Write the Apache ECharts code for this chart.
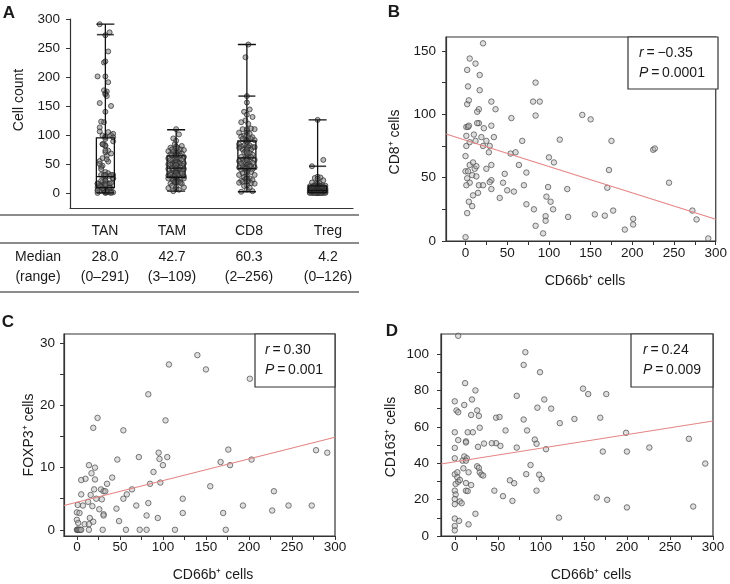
<!DOCTYPE html>
<html><head><meta charset="utf-8">
<script src="https://cdn.jsdelivr.net/npm/echarts@6/dist/echarts.min.js"></script>
<style>html,body{margin:0;padding:0;background:#fff}#c{width:730px;height:584px}</style>
</head><body><div id="c"></div>
<script>
// ---------- DATA ----------
const boxCats = ['TAN', 'TAM', 'CD8', 'Treg'];
const boxMin = [0, 3, 2, 0];
const boxQ1 = [9, 27, 42, 0.8];
const boxMed = [28.0, 42.7, 60.3, 4.2];
const boxQ3 = [95, 64, 89.6, 12];
const boxMax = [291, 109, 256, 126];
const innerCap = [273, null, 167, 46];
const cd8Extra = [256, 234, 167];
const tregExtra = [126, 57, 46];

// Panel B: CD66b+ (x) vs CD8+ (y)
const ptsB = [[21,156],[5,144],[12,140],[2,135],[17,131],[3,122],[17,119],[84,125],[2,108],[4,111],[31,110],[81,110],[89,110],[16,104],[36,104],[14,102],[84,99],[140,99.5],[150,96],[55,97],[1,90],[3,90],[4,91],[16,93],[14,93],[22,89],[31,91],[10,84],[1,83],[34,82],[19,82],[12,79],[68,79],[113,80],[175,79],[225,72],[227,73],[1,75],[21,75],[29,75],[25,79],[5,78],[0,67],[54,69],[60,70],[28,70],[100,66],[106,62],[64,60],[31,60],[5,60],[9,62],[11,57],[13,59],[25,57],[0,55],[3,55],[73,54],[47,53],[172,56],[8,52],[13,51],[2,49.5],[5,46],[31,48],[29,46.5],[45,46],[70,44],[1,44],[16,44],[21,44],[244,46],[99,42.6],[170,42],[31,41],[50,40],[58,39],[122,41],[15,38],[9,36],[41,34],[97,35],[102,31],[4,31],[73,29],[105,25],[8,27.5],[82,25],[2,22],[155,21],[167,20],[177,24],[272,24],[277,17],[123,19],[96,19.6],[96,16],[201,17.5],[201,13],[191,9],[84,12],[93,6],[0,3],[291,2]];
// Panel C: CD66b+ (x) vs FOXP3+ (y)
const ptsC = [[140,28.1],[107,26.6],[150,25.8],[201,24.3],[83,21.8],[24,18],[103,17.6],[19,16.4],[54,16],[278,12.8],[291,12.4],[176,12.9],[95,12.4],[96,11.4],[72,11.7],[105,11.7],[47,11.3],[167,10.9],[203,11.3],[100,10.4],[178,10.4],[14,10.4],[21,10],[89,9.3],[17,9.1],[10,8.2],[5,8],[21,8.1],[41,8.4],[35,7.4],[85,7.4],[97,7.6],[28,6.5],[31,6.2],[33,6.2],[64,6.5],[20,6.5],[155,7],[229,6.2],[5,5.7],[58,5.7],[54,5],[16,5.6],[22.5,5],[29,4.9],[123,5],[13,4.5],[18,3.8],[1,4],[7,3.9],[26,3.3],[46,3.4],[69,3.9],[83,4.3],[193,3.9],[246,3.9],[273,3.9],[227,3.1],[170,2.7],[123,2.7],[0,2.8],[3,2.7],[31,2.5],[31,2.3],[15,1.9],[81,2.3],[94,1.9],[49,1.4],[0,1.6],[9,0.9],[14,0.9],[19,1.3],[1.5,1.1],[0,0],[0.5,0],[1,0],[2,0],[3,0],[4,0],[5,0],[14,0],[30,0],[57,0],[73,0],[81,0],[114,0],[173,0]];
// Panel D: CD66b+ (x) vs CD163+ (y)
const ptsD = [[4,110],[82,101],[80,94],[99,90],[149,81],[155,78],[176,78],[12,84],[24,80],[20,75],[104,75],[72,77],[0,74],[11,72],[26,69],[112,70],[96,70.5],[2,69],[4,68],[19,66.5],[28,66],[48,65],[52,65.4],[139,64.3],[169,65],[80,64],[122,62],[29,59.5],[59,58],[84,58],[0,57],[15,57],[21,57],[199,56.7],[272,53.4],[4,52.7],[13,52],[13,51.4],[34,50.8],[48,51],[43,51],[53,49.5],[93,53],[95,50.7],[27,49],[72,48.6],[106,47.7],[226,48.6],[172,46.4],[200,46.4],[0,48.4],[11,43.7],[14,42.7],[0,42.7],[9,41.4],[13,41.4],[88,39],[291,39.8],[26,38.3],[28,37.4],[10,37.2],[0,33.9],[3,35],[16,35],[29,35],[31,33.7],[33,33.2],[3,32.2],[1,28.6],[4,29.8],[6,30.8],[13,29.1],[19,28],[83,34],[98,33.7],[101,31.3],[64,30.6],[69,29],[0,24.9],[1,22.8],[13,24.9],[15,24.7],[46,24.9],[95,24.9],[56,21.9],[67,19.3],[165,21.2],[177,19.9],[200,15.7],[277,16.2],[0,20.3],[6,19],[8,18],[0,17.5],[24,12.2],[121,10.1],[0,9.6],[5,8.3],[16,6.4],[0,5.5],[0,3.1]];

// fitted regression line end points
const regB = [[-23.4, 84.4], [300, 17.2]];
const regC = [[-15, 3.9], [300, 14.9]];
const regD = [[-16, 39.6], [300, 63.2]];
const statB = ['−0.35', '0.0001'];
const statC = ['0.30', '0.001'];
const statD = ['0.24', '0.009'];

// ---------- BUILD ----------
const FF = "'Liberation Sans', Arial, Helvetica, sans-serif";
const AX = '#333';
const TXT = '#1a1a1a';
const TICK_FS = 13.5;

const tanPts = ptsB.map(p => p[0]);
const tamPts = ptsD.map(p => p[1]);
const cd8Pts = ptsB.map(p => p[1]).concat(cd8Extra);
const tregPts = ptsC.map(p => p[1]).concat(tregExtra);
const groups = [tanPts, tamPts, cd8Pts, tregPts];
const jit = [0, 0.04, -0.04, 0, 0.08, -0.08, 0.02, -0.02, 0, 0.06, -0.06, 0, 0.11, -0.11];
const jitterPts = [];
groups.forEach((g, gi) => g.forEach((v, i) => jitterPts.push([gi + 1 + jit[i % jit.length], v])));

const boxData = boxCats.map((c, i) => [boxMin[i], boxQ1[i], boxMed[i], boxQ3[i], boxMax[i]]);
const capData = [];
innerCap.forEach((v, i) => { if (v !== null) capData.push([i, v]); });

function range(a, b, s) { const r = []; for (let v = a; v <= b + 1e-9; v += s) r.push(v); return r; }

function valAxis(gi, min, max, labels, ticks, margin) {
  return {
    type: 'value', gridIndex: gi, min: min, max: max,
    axisLine: { show: true, onZero: false, lineStyle: { color: AX, width: 1.2 } },
    axisTick: { show: true, customValues: ticks, length: 4, lineStyle: { color: AX, width: 1 } },
    axisLabel: { customValues: labels, color: TXT, fontSize: TICK_FS, fontFamily: FF, margin: margin },
    splitLine: { show: false }
  };
}

const ptStyle = { color: 'rgba(180,180,180,0.55)', borderColor: '#4a4a4a', borderWidth: 0.9 };

function scatter(xi, yi, data) {
  return { type: 'scatter', xAxisIndex: xi, yAxisIndex: yi, data: data, symbolSize: 5.5,
    itemStyle: ptStyle, silent: true, z: 2 };
}
function reg(xi, yi, data) {
  return { type: 'line', xAxisIndex: xi, yAxisIndex: yi, data: data, symbol: 'none',
    lineStyle: { color: '#e58585', width: 1.1 }, z: 3, silent: true };
}

function txt(x, y, text, o) {
  o = o || {};
  return {
    type: 'text', x: x, y: y, rotation: o.rot || 0, z: 100,
    style: {
      text: text, fill: TXT, fontFamily: FF, fontSize: o.fs || 14, fontWeight: o.fw || 'normal',
      align: o.align || 'center', textAlign: o.align || 'center',
      verticalAlign: 'middle', textVerticalAlign: 'middle',
      rich: { i: { fontStyle: 'italic', fontSize: o.fs || 14, fontFamily: FF, fill: TXT } }
    }
  };
}
function hline(x1, x2, y, w, c) {
  return { type: 'line', z: 100, shape: { x1: x1, y1: y, x2: x2, y2: y }, style: { stroke: c || '#666', lineWidth: w || 1.5 } };
}
function statBox(x, y, w, h, tx, rv, pv) {
  return [
    { type: 'rect', z: 99, shape: { x: x, y: y, width: w, height: h }, style: { fill: '#fff', stroke: AX, lineWidth: 1.2 } },
    txt(tx, y + 16, '{i|r}\u2009=\u2009' + rv, { align: 'left', fs: 14 }),
    txt(tx, y + 36, '{i|P}\u2009=\u2009' + pv, { align: 'left', fs: 14 })
  ];
}

const colX = [105, 172, 249, 328];
const graphics = [
  // panel letters
  txt(9, 13, 'A', { fs: 17, fw: 'bold' }),
  txt(394, 12, 'B', { fs: 17, fw: 'bold' }),
  txt(8, 322, 'C', { fs: 17, fw: 'bold' }),
  txt(392, 331, 'D', { fs: 17, fw: 'bold' }),
  // axis titles
  txt(19, 100, 'Cell count', { rot: Math.PI / 2 }),
  txt(395, 142, 'CD8⁺ cells', { rot: Math.PI / 2 }),
  txt(29, 435, 'FOXP3⁺ cells', { rot: Math.PI / 2 }),
  txt(391, 437, 'CD163⁺ cells', { rot: Math.PI / 2 }),
  txt(585, 281, 'CD66b⁺ cells'),
  txt(213, 575, 'CD66b⁺ cells'),
  txt(591, 575, 'CD66b⁺ cells'),
  // table
  hline(0, 359, 215), hline(0, 359, 243), hline(0, 359, 292),
  txt(38, 257, 'Median'), txt(38, 277, '(range)')
];
boxCats.forEach((c, i) => {
  graphics.push(txt(colX[i], 231, c));
  graphics.push(txt(colX[i], 257, boxMed[i].toFixed(1)));
  graphics.push(txt(colX[i], 277, '(' + boxMin[i] + '–' + boxMax[i] + ')'));
});
graphics.push(...statBox(628, 37, 90, 52, 639, statB[0], statB[1]));
graphics.push(...statBox(255, 334, 80, 53, 265, statC[0], statC[1]));
graphics.push(...statBox(631, 334, 82, 53, 643, statD[0], statD[1]));

const option = {
  animation: false,
  backgroundColor: '#fff',
  textStyle: { fontFamily: FF },
  grid: [
    { left: 70, right: 377, top: 19, bottom: 376, show: false },
    { left: 446, right: 12, top: 37, bottom: 343, show: true, borderColor: AX, borderWidth: 1.2 },
    { left: 64, right: 395, top: 334, bottom: 48, show: true, borderColor: AX, borderWidth: 1.2 },
    { left: 441, right: 17, top: 334, bottom: 48, show: true, borderColor: AX, borderWidth: 1.2 }
  ],
  xAxis: [
    { type: 'category', gridIndex: 0, data: boxCats, boundaryGap: true,
      axisLine: { show: true, onZero: false, lineStyle: { color: AX, width: 1.2 } },
      axisTick: { show: false }, axisLabel: { show: false }, splitLine: { show: false } },
    { type: 'value', gridIndex: 0, min: 0.5, max: 4.5, show: false },
    valAxis(1, -23.4, 300, range(0, 300, 50), range(0, 300, 25), 5),
    valAxis(2, -15, 300, range(0, 300, 50), range(0, 300, 25), 4),
    valAxis(3, -16, 300, range(0, 300, 50), range(0, 300, 25), 4)
  ],
  yAxis: [
    valAxis(0, -26, 300, range(0, 300, 50), range(0, 300, 50), 10),
    valAxis(1, 0, 161, range(0, 150, 50), range(0, 150, 25), 10),
    valAxis(2, -1, 31.5, range(0, 30, 10), range(0, 30, 5), 9),
    valAxis(3, 0, 111, range(0, 100, 20), range(0, 100, 10), 12)
  ],
  series: [
    { type: 'scatter', xAxisIndex: 1, yAxisIndex: 0, data: jitterPts, symbolSize: 5,
      itemStyle: { color: 'rgba(110,110,110,0.6)', borderColor: '#2a2a2a', borderWidth: 0.9 }, z: 2, silent: true },
    { type: 'boxplot', xAxisIndex: 0, yAxisIndex: 0, data: boxData, boxWidth: [18, 18],
      itemStyle: { color: 'rgba(0,0,0,0)', borderColor: '#111', borderWidth: 1.3 }, z: 3, silent: true },
    { type: 'scatter', xAxisIndex: 0, yAxisIndex: 0, data: capData, symbol: 'rect', symbolSize: [17, 1.6],
      itemStyle: { color: '#111' }, z: 4, silent: true },
    scatter(2, 1, ptsB), scatter(3, 2, ptsC), scatter(4, 3, ptsD),
    reg(2, 1, regB), reg(3, 2, regC), reg(4, 3, regD)
  ],
  graphic: { elements: graphics }
};

const chart = echarts.init(document.getElementById('c'), null, { renderer: 'canvas' });
chart.setOption(option);
</script>
</body></html>
